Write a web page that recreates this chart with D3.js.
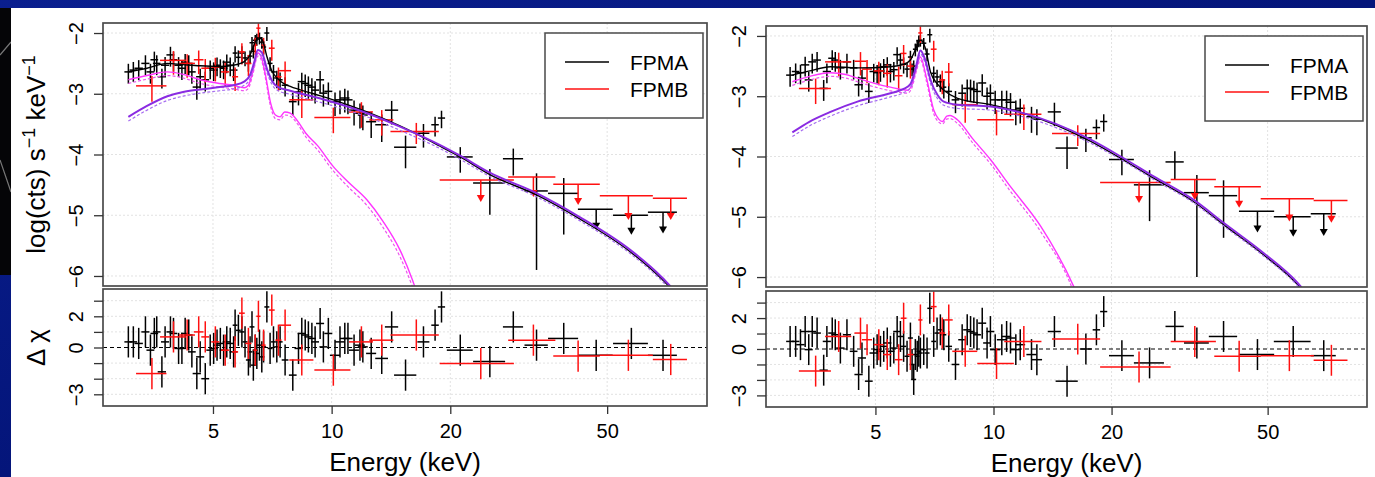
<!DOCTYPE html>
<html>
<head>
<meta charset="utf-8">
<script src="https://cdn.jsdelivr.net/npm/d3@7"></script>
<style>
  body { margin: 0; background: #061783; }
  svg { display: block; font-family: "Liberation Sans", Arial, Helvetica, sans-serif; }
</style>
</head>
<body>
<svg id="chart" width="1375" height="477"></svg>
<script>
"use strict";

// ---- axis ticks / labels ----
const energyTicks = [5, 10, 20, 50];
const specTicks = [-2, -3, -4, -5, -6];
const resTicks = [3, 2, 1, 0, -1, -2, -3];
const resLabels = [2, 0, -3];
const legendLabels = ["FPMA", "FPMB"];

// ---- left spectrum : [E keV, halfwidth, log rate, rel. error, delta chi] ----
const leftA = [
  [3.05,0.07,-2.64,0.36,0.36],[3.14,0.07,-2.61,0.36,0.36],[3.24,0.08,-2.58,0.36,0.26],[3.37,0.08,-2.50,0.36,1.0],
  [3.47,0.08,-2.64,0.36,-0.17],[3.55,0.08,-2.44,0.36,0.9],[3.60,0.08,-2.50,0.36,1.0],[3.71,0.09,-2.72,0.36,-1.56],
  [3.78,0.09,-2.53,0.36,0.36],[3.90,0.09,-2.36,0.36,1.0],[3.97,0.09,-2.44,0.36,0.9],[4.09,0.10,-2.53,0.36,-0.06],
  [4.17,0.10,-2.58,0.36,-0.06],[4.25,0.10,-2.48,0.36,0.9],[4.34,0.10,-2.50,0.36,0.8],[4.42,0.10,-2.64,0.36,-0.28],
  [4.55,0.11,-2.89,0.38,-1.67],[4.64,0.11,-2.72,0.36,-0.6],[4.78,0.11,-2.77,0.36,-2.0],[4.92,0.11,-2.58,0.34,-0.17],
  [5.02,0.12,-2.61,0.34,-0.06],[5.12,0.12,-2.53,0.34,0.15],[5.22,0.12,-2.56,0.34,0.26],[5.32,0.12,-2.58,0.34,-0.17],
  [5.42,0.13,-2.48,0.34,0.36],[5.53,0.13,-2.53,0.34,0.26],[5.64,0.13,-2.61,0.34,-0.28],[5.69,0.08,-2.33,0.3,1.43],
  [5.80,0.08,-2.40,0.3,1.1],[5.92,0.09,-2.33,0.3,1.0],[6.03,0.09,-2.41,0.27,0.36],[6.15,0.09,-2.50,0.27,-0.8],
  [6.21,0.09,-2.38,0.24,-0.28],[6.28,0.09,-2.16,0.24,1.32],[6.33,0.09,-2.30,0.24,-1.13],[6.40,0.09,-2.12,0.22,-0.17],
  [6.46,0.09,-2.10,0.22,-0.38],[6.56,0.10,-2.08,0.22,0.15],[6.65,0.10,-2.15,0.22,-0.6],[6.72,0.10,-2.23,0.24,0.04],
  [6.85,0.10,-2.00,0.26,2.6],[6.98,0.10,-2.50,0.26,-0.06],[7.12,0.10,-2.64,0.3,0.36],[7.26,0.11,-2.74,0.32,0.04],
  [7.40,0.11,-2.77,0.32,0.36],[7.62,0.15,-2.86,0.35,-0.8],[7.97,0.18,-3.13,0.4,-1.77],[8.24,0.19,-2.97,0.4,-0.06],
  [8.40,0.20,-2.80,0.4,0.9],[8.57,0.20,-2.83,0.4,0.8],[8.73,0.20,-2.86,0.4,0.68],[8.91,0.21,-2.89,0.4,0.58],
  [9.08,0.21,-2.94,0.4,0.36],[9.35,0.22,-2.77,0.4,1.54],[9.53,0.22,-2.99,0.4,0.04],[9.81,0.23,-2.96,0.4,0.9],
  [10.2,0.30,-3.13,0.42,-0.5],[10.5,0.30,-3.10,0.42,0.36],[10.8,0.30,-3.07,0.42,0.58],[11.0,0.30,-3.10,0.42,0.58],
  [11.4,0.33,-3.27,0.44,-0.17],[11.8,0.34,-3.32,0.44,0.15],[12.0,0.35,-3.35,0.44,0.04],[12.6,0.37,-3.46,0.46,-0.38],
  [13.4,0.50,-3.51,0.48,-0.7],[14.2,0.55,-3.27,0.42,1.32],[15.4,1.00,-3.88,0.55,-1.77],[17.1,0.60,-3.65,0.42,0.36],
  [18.3,0.40,-3.51,0.36,1.43],[19.0,0.40,-3.40,0.32,2.6],[21.2,1.60,-4.04,0.45,-0.17],[25.2,2.35,-4.47,0.7,-0.9],
  [28.9,1.70,-4.07,0.47,1.32],[33.1,2.25,-4.60,0.95,0.15],[38.8,3.40,-4.64,0.79,0.58]
];
const leftB = [
  [3.50,0.31,-2.87,0.45,-1.67],[3.97,0.30,-2.45,0.42,0.68],[4.30,0.20,-2.50,0.42,0.8],[4.60,0.13,-2.44,0.42,1.0],
  [4.78,0.11,-2.58,0.42,0.68],[5.07,0.12,-2.56,0.42,0.36],[5.37,0.13,-2.64,0.42,-0.17],[5.69,0.10,-2.72,0.42,-0.28],
  [5.92,0.10,-2.31,0.38,2.2],[6.15,0.11,-2.50,0.38,0.26],[6.40,0.07,-2.20,0.32,-0.17],[6.52,0.08,-1.92,0.32,2.0],
  [6.72,0.08,-2.20,0.32,0.15],[7.05,0.12,-2.25,0.38,2.4],[7.33,0.13,-2.72,0.42,0.47],[7.62,0.27,-2.62,0.42,1.43],
  [8.40,0.59,-3.10,0.5,-0.8],[10.1,1.06,-3.39,0.45,-1.45],[11.9,0.83,-3.30,0.45,0.36],[13.4,0.94,-3.43,0.45,0.47],
  [16.4,2.30,-3.62,0.38,0.8]
];
// upper limits : [E, halfwidth, limit, arrow tip, delta chi]
const leftAUL = [[46.9,4.75,-4.90,-5.24,-0.5],[57.6,5.85,-5.00,-5.32,0.26],[69.3,5.85,-4.95,-5.30,-0.5]];
const leftBUL = [[23.9,5.1,-4.42,-4.78,-1.03],[32.5,4.45,-4.37,-4.70,0.47],[42.2,5.7,-4.49,-4.83,-0.55],
  [56.6,8.7,-4.68,-5.08,-0.5],[72.5,7.2,-4.72,-5.08,-0.77]];

// model curves left : [E, log rate]
const leftTotal = [[3.05,-2.64],[3.4,-2.58],[3.83,-2.50],[4.2,-2.52],[4.64,-2.54],[5.2,-2.55],[5.63,-2.53],[6.0,-2.47],
  [6.2,-2.37],[6.35,-2.2],[6.5,-2.08],[6.65,-2.1],[6.86,-2.4],[7.05,-2.62],[7.27,-2.74],[7.6,-2.84],[7.85,-2.88],
  [9.0,-3.0],[10.1,-3.1],[12.3,-3.3],[14.9,-3.53],[18.8,-3.86],[21.2,-4.04],[25.2,-4.33],[33.2,-4.67],[42.6,-5.06],
  [57.2,-5.6],[68.8,-6.05],[75,-6.3]];
const leftPowA = [[3.05,-3.38],[3.4,-3.2],[3.83,-3.04],[4.2,-2.97],[4.64,-2.93],[5.2,-2.89],[5.63,-2.86],[6.0,-2.8],
  [6.2,-2.7],[6.35,-2.5],[6.5,-2.28],[6.65,-2.32],[6.86,-2.6],[7.05,-2.78],[7.27,-2.88],[7.85,-2.95],[9.0,-3.05],
  [10.1,-3.14],[12.3,-3.32],[14.9,-3.54],[18.8,-3.84],[21.2,-4.02],[25.2,-4.3],[33.2,-4.64],[42.6,-5.03],[57.2,-5.57],
  [68.8,-6.02],[75,-6.28]];
const leftPowB = [[3.05,-3.45],[3.4,-3.27],[3.83,-3.11],[4.2,-3.04],[4.64,-2.99],[5.2,-2.95],[5.63,-2.92],[6.0,-2.86],
  [6.2,-2.76],[6.35,-2.56],[6.5,-2.34],[6.65,-2.38],[6.86,-2.66],[7.05,-2.84],[7.27,-2.94],[7.85,-3.01],[9.0,-3.11],
  [10.1,-3.2],[12.3,-3.38],[14.9,-3.6],[18.8,-3.9],[21.2,-4.08],[25.2,-4.36],[33.2,-4.7],[42.6,-5.09],[57.2,-5.63],
  [68.8,-6.08],[75,-6.34]];
const leftThA = [[3.05,-2.77],[3.4,-2.7],[3.83,-2.64],[4.2,-2.68],[4.64,-2.77],[5.2,-2.83],[5.63,-2.86],[6.0,-2.9],
  [6.15,-2.86],[6.3,-2.65],[6.5,-2.33],[6.65,-2.42],[6.8,-2.7],[7.0,-3.15],[7.2,-3.35],[7.4,-3.38],[7.6,-3.3],
  [7.85,-3.32],[8.2,-3.45],[8.6,-3.65],[9.2,-3.85],[10.1,-4.2],[11.0,-4.45],[12.3,-4.75],[13.5,-5.1],[14.9,-5.57],
  [16.0,-6.05],[16.5,-6.3]];
const leftThB = [[3.05,-2.83],[3.4,-2.76],[3.83,-2.7],[4.2,-2.74],[4.64,-2.83],[5.2,-2.89],[5.63,-2.92],[6.0,-2.95],
  [6.15,-2.91],[6.3,-2.7],[6.5,-2.38],[6.65,-2.47],[6.8,-2.76],[7.0,-3.21],[7.2,-3.41],[7.4,-3.43],[7.6,-3.35],
  [7.85,-3.37],[8.2,-3.5],[8.6,-3.71],[9.2,-3.92],[10.1,-4.27],[11.0,-4.53],[12.3,-4.84],[13.5,-5.2],[14.9,-5.68],
  [16.0,-6.16],[16.5,-6.4]];

// ---- right spectrum ----
const rightA = [
  [3.03,0.07,-2.65,0.36,0.49],[3.13,0.07,-2.59,0.36,0.49],[3.22,0.08,-2.61,0.36,0.28],[3.31,0.08,-2.48,0.36,1.13],
  [3.38,0.08,-2.73,0.36,-0.04],[3.45,0.08,-2.43,0.36,1.13],[3.55,0.08,-2.40,0.36,1.03],[3.69,0.09,-2.87,0.38,-1.37],
  [3.76,0.09,-2.59,0.36,0.49],[3.88,0.09,-2.37,0.36,1.03],[3.95,0.09,-2.40,0.36,0.92],[4.07,0.10,-2.53,0.36,0.06],
  [4.23,0.10,-2.43,0.36,0.92],[4.40,0.10,-2.53,0.36,-0.15],[4.53,0.11,-2.81,0.36,-1.65],[4.62,0.11,-2.70,0.36,-0.58],
  [4.81,0.11,-2.92,0.36,-2.08],[4.95,0.12,-2.59,0.34,-0.26],[5.05,0.12,-2.61,0.34,-0.04],[5.15,0.12,-2.58,0.34,-0.15],
  [5.25,0.12,-2.51,0.34,0.17],[5.36,0.13,-2.48,0.34,0.39],[5.46,0.13,-2.59,0.34,-0.15],[5.57,0.13,-2.56,0.34,0.06],
  [5.68,0.13,-2.31,0.32,1.13],[5.79,0.09,-2.40,0.3,0.81],[5.90,0.09,-2.47,0.3,0.17],[6.02,0.09,-2.55,0.27,-0.47],
  [6.14,0.09,-2.35,0.27,0.71],[6.20,0.09,-2.55,0.24,-1.0],[6.26,0.09,-2.50,0.24,-1.97],[6.32,0.09,-2.22,0.24,-0.36],
  [6.39,0.09,-2.15,0.22,-0.47],[6.45,0.09,-2.08,0.22,-0.15],[6.51,0.09,-2.07,0.22,-0.26],[6.64,0.10,-2.12,0.22,-0.04],
  [6.77,0.10,-2.30,0.24,-0.26],[6.88,0.10,-1.98,0.26,2.63],[7.04,0.10,-2.62,0.3,0.49],[7.18,0.11,-2.68,0.32,1.03],
  [7.32,0.11,-2.76,0.32,1.24],[7.47,0.11,-2.85,0.35,0.92],[7.69,0.15,-2.92,0.36,0.17],[8.00,0.18,-3.06,0.4,-1.0],
  [8.32,0.19,-2.95,0.4,0.6],[8.57,0.20,-2.87,0.4,1.24],[8.74,0.20,-2.87,0.4,1.13],[8.91,0.21,-2.89,0.4,1.03],
  [9.08,0.21,-2.92,0.4,0.92],[9.36,0.22,-2.78,0.4,1.67],[9.63,0.22,-3.00,0.4,0.39],[9.82,0.23,-2.95,0.4,1.13],
  [10.1,0.30,-3.06,0.42,-0.04],[10.5,0.30,-3.06,0.42,0.6],[10.8,0.30,-3.06,0.42,0.81],[11.05,0.32,-3.10,0.42,0.71],
  [11.4,0.33,-3.23,0.44,-0.04],[11.7,0.34,-3.20,0.44,0.28],[12.5,0.37,-3.34,0.46,-0.36],[12.9,0.40,-3.38,0.46,-0.69],
  [14.3,0.55,-3.26,0.42,1.13],[15.4,1.00,-3.86,0.55,-2.08],[17.2,0.60,-3.69,0.42,0.0],[18.3,0.40,-3.52,0.36,1.24],
  [19.1,0.40,-3.42,0.32,2.42],[21.25,1.55,-4.05,0.45,-0.43],[25.0,2.2,-4.47,0.75,-0.9],[29.0,1.55,-4.09,0.5,1.46],
  [33.0,2.4,-4.60,0.96,0.39],[38.6,3.2,-4.65,0.8,0.81]
];
const rightB = [
  [3.52,0.33,-2.87,0.45,-1.43],[4.03,0.31,-2.43,0.42,0.81],[4.58,0.16,-2.42,0.42,1.03],[4.76,0.14,-2.55,0.42,0.6],
  [5.10,0.15,-2.58,0.42,0.28],[5.36,0.13,-2.62,0.42,-0.36],[5.73,0.13,-2.66,0.42,-0.69],[5.90,0.10,-2.29,0.38,1.99],
  [6.14,0.11,-2.50,0.38,-0.36],[6.51,0.08,-1.95,0.32,1.88],[7.04,0.12,-2.22,0.38,2.74],[7.40,0.13,-2.73,0.42,1.03],
  [7.69,0.18,-2.60,0.42,1.88],[8.47,0.62,-3.14,0.5,-0.15],[10.18,1.09,-3.39,0.45,-0.94],[11.95,1.3,-3.30,0.45,0.49],
  [16.4,2.3,-3.62,0.38,0.64]
];
const rightAUL = [[47.1,4.85,-4.91,-5.26,-0.36],[58.1,6.25,-5.00,-5.33,0.49],[69.5,5.1,-4.95,-5.32,-0.43]];
const rightBUL = [[23.5,4.8,-4.43,-4.77,-1.16],[32.6,4.3,-4.38,-4.72,0.49],[42.3,5.75,-4.50,-4.85,-0.47],
  [56.8,8.8,-4.70,-5.08,-0.43],[72.7,7.2,-4.73,-5.10,-0.73]];

const rightTotal = [[3.07,-2.65],[3.4,-2.58],[3.84,-2.51],[4.5,-2.53],[5.46,-2.51],[5.9,-2.47],[6.14,-2.4],[6.3,-2.25],
  [6.51,-2.07],[6.7,-2.2],[6.91,-2.6],[7.2,-2.8],[7.47,-2.9],[8.07,-3.03],[9.82,-3.14],[11.9,-3.28],[17.7,-3.75],
  [21.1,-4.03],[25.6,-4.36],[32.4,-4.75],[38.6,-5.13],[48.8,-5.63],[59.7,-6.13],[63,-6.31]];
const rightPowA = [[3.07,-3.6],[3.4,-3.42],[3.84,-3.26],[4.5,-3.09],[5.46,-2.95],[5.9,-2.88],[6.14,-2.8],[6.35,-2.5],
  [6.51,-2.24],[6.7,-2.4],[6.91,-2.73],[7.2,-2.98],[7.47,-3.09],[8.07,-3.14],[9.82,-3.17],[11.9,-3.28],[17.7,-3.72],
  [21.1,-4.0],[25.6,-4.33],[32.4,-4.72],[38.6,-5.1],[48.8,-5.6],[59.7,-6.1],[63,-6.28]];
const rightPowB = [[3.07,-3.67],[3.4,-3.49],[3.84,-3.33],[4.5,-3.16],[5.46,-3.01],[5.9,-2.94],[6.14,-2.86],[6.35,-2.56],
  [6.51,-2.3],[6.7,-2.46],[6.91,-2.79],[7.2,-3.04],[7.47,-3.15],[8.07,-3.2],[9.82,-3.23],[11.9,-3.34],[17.7,-3.78],
  [21.1,-4.05],[25.6,-4.38],[32.4,-4.77],[38.6,-5.15],[48.8,-5.65],[59.7,-6.15],[63,-6.33]];
const rightThA = [[3.07,-2.76],[3.4,-2.67],[3.84,-2.61],[4.2,-2.64],[4.5,-2.7],[5.0,-2.79],[5.46,-2.85],[6.03,-2.9],
  [6.2,-2.8],[6.35,-2.55],[6.51,-2.35],[6.75,-2.7],[7.04,-3.23],[7.25,-3.38],[7.41,-3.42],[7.6,-3.33],[7.75,-3.32],
  [8.09,-3.39],[8.89,-3.72],[9.82,-4.05],[11.05,-4.5],[13.2,-5.16],[16.0,-6.15],[16.5,-6.35]];
const rightThB = [[3.07,-2.82],[3.4,-2.73],[3.84,-2.67],[4.2,-2.7],[4.5,-2.76],[5.0,-2.85],[5.46,-2.91],[6.03,-2.95],
  [6.2,-2.85],[6.35,-2.6],[6.51,-2.4],[6.75,-2.76],[7.04,-3.29],[7.25,-3.43],[7.41,-3.46],[7.6,-3.38],[7.75,-3.37],
  [8.09,-3.45],[8.89,-3.79],[9.82,-4.12],[11.05,-4.58],[13.2,-5.25],[16.0,-6.25],[16.3,-6.4]];

// ---------------------------------------------------------------
const svg = d3.select("#chart");
const fmt = d => (d < 0 ? "\u2212" + Math.abs(d) : String(d));

// slide background
const defs = svg.append("defs");
const grad = defs.append("linearGradient").attr("id", "bg").attr("x1", 0).attr("x2", 1).attr("y1", 0).attr("y2", 1);
grad.append("stop").attr("offset", "0%").attr("stop-color", "#0a1f8f");
grad.append("stop").attr("offset", "50%").attr("stop-color", "#04157a");
grad.append("stop").attr("offset", "100%").attr("stop-color", "#0b2596");
svg.append("rect").attr("width", 1375).attr("height", 477).attr("fill", "url(#bg)");
svg.append("rect").attr("x", 0).attr("y", 8).attr("width", 11).attr("height", 267).attr("fill", "#050507");
svg.append("path").attr("d", "M0,55 L11,42 M0,160 L11,192").attr("stroke", "#777").attr("stroke-width", 1.2).attr("fill", "none");
svg.append("rect").attr("x", 11).attr("y", 8).attr("width", 1364).attr("height", 469).attr("fill", "#fff");

function drawPanel(id, box, data, showYTitle) {
  const g = svg.append("g").attr("id", id);

  const x = d3.scaleLog().domain([2.63, 89.6]).range([box.left, box.right]);
  const yS = d3.scaleLinear().domain([-1.835, -6.165]).range([box.sTop, box.sBot]);
  const yR = d3.scaleLinear().domain([3.75, -3.75]).range([box.rTop, box.rBot]);

  // clip regions
  defs.append("clipPath").attr("id", id + "-cs").append("rect")
    .attr("x", box.left).attr("y", box.sTop).attr("width", box.right - box.left).attr("height", box.sBot - box.sTop);
  defs.append("clipPath").attr("id", id + "-cr").append("rect")
    .attr("x", box.left).attr("y", box.rTop).attr("width", box.right - box.left).attr("height", box.rBot - box.rTop);

  // faint dotted grid, R grid() style
  const grid = g.append("g").attr("stroke", "#e2e2e2").attr("stroke-width", 1).attr("stroke-dasharray", "2,2");
  specTicks.forEach(v => grid.append("line").attr("x1", box.left).attr("x2", box.right).attr("y1", yS(v)).attr("y2", yS(v)));
  resTicks.filter(v => v !== 0).forEach(v => grid.append("line").attr("x1", box.left).attr("x2", box.right).attr("y1", yR(v)).attr("y2", yR(v)));
  energyTicks.forEach(e => {
    grid.append("line").attr("x1", x(e)).attr("x2", x(e)).attr("y1", box.sTop).attr("y2", box.sBot);
    grid.append("line").attr("x1", x(e)).attr("x2", x(e)).attr("y1", box.rTop).attr("y2", box.rBot);
  });

  // zero line of the residuals
  g.append("line").attr("x1", box.left).attr("x2", box.right).attr("y1", yR(0)).attr("y2", yR(0))
    .attr("stroke", "#000").attr("stroke-width", 1).attr("stroke-dasharray", "4,3");

  const spec = g.append("g").attr("clip-path", `url(#${id}-cs)`);
  const res = g.append("g").attr("clip-path", `url(#${id}-cr)`);

  // data crosses (rate with linear error -> log bar)
  function crosses(layer, pts, color) {
    const s = layer.append("g").attr("stroke", color).attr("stroke-width", 1.5);
    pts.forEach(p => {
      const [e, de, v, rel] = p;
      const hi = v + Math.log10(1 + rel);
      const lo = rel < 1 ? v + Math.log10(1 - rel) : -9;
      s.append("line").attr("x1", x(e - de)).attr("x2", x(e + de)).attr("y1", yS(v)).attr("y2", yS(v));
      s.append("line").attr("x1", x(e)).attr("x2", x(e)).attr("y1", yS(hi)).attr("y2", yS(lo));
    });
  }
  function limits(layer, pts, color) {
    const s = layer.append("g");
    pts.forEach(p => {
      const [e, de, v, tip] = p;
      s.append("line").attr("x1", x(e - de)).attr("x2", x(e + de)).attr("y1", yS(v)).attr("y2", yS(v))
        .attr("stroke", color).attr("stroke-width", 1.5);
      s.append("line").attr("x1", x(e)).attr("x2", x(e)).attr("y1", yS(v)).attr("y2", yS(tip) - 5)
        .attr("stroke", color).attr("stroke-width", 1.5);
      const cx = x(e), ty = yS(tip);
      s.append("path").attr("d", `M${cx - 4},${ty - 7}L${cx + 4},${ty - 7}L${cx},${ty}Z`).attr("fill", color);
    });
  }
  function resid(pts, color) {
    const s = res.append("g").attr("stroke", color).attr("stroke-width", 1.5);
    pts.forEach(p => {
      const e = p[0], de = p[1], r = p[p.length - 1];
      s.append("line").attr("x1", x(e - de)).attr("x2", x(e + de)).attr("y1", yR(r)).attr("y2", yR(r));
      s.append("line").attr("x1", x(e)).attr("x2", x(e)).attr("y1", yR(r + 1)).attr("y2", yR(r - 1));
    });
  }

  crosses(spec, data.A, "#000");
  limits(spec, data.AUL, "#000");
  crosses(spec, data.B, "#ff1010");
  limits(spec, data.BUL, "#ff1010");

  resid(data.A, "#000");
  resid(data.AUL, "#000");
  resid(data.B, "#ff1010");
  resid(data.BUL, "#ff1010");

  // models
  const line = d3.line().x(d => x(d[0])).y(d => yS(d[1])).curve(d3.curveMonotoneX);
  const models = [
    [data.thB, "#ee55ee", 1.2, "3,2"],
    [data.thA, "#ff33ff", 1.4, null],
    [data.total, "#000", 1.4, null],
    [data.powB, "#a66cf0", 1.2, "3,2"],
    [data.powA, "#8a2be2", 2.0, null]
  ];
  models.forEach(([pts, col, w, dash]) => {
    spec.append("path").attr("d", line(pts)).attr("fill", "none")
      .attr("stroke", col).attr("stroke-width", w).attr("stroke-dasharray", dash);
  });

  // frames
  [[box.sTop, box.sBot], [box.rTop, box.rBot]].forEach(([t, b]) => {
    g.append("rect").attr("x", box.left).attr("y", t).attr("width", box.right - box.left).attr("height", b - t)
      .attr("fill", "none").attr("stroke", "#4a4a4a").attr("stroke-width", 1.7);
  });

  // y axes (labels parallel to the axis, R style)
  const ySpecAxis = d3.axisLeft(yS).tickValues(specTicks).tickSize(9).tickFormat(fmt);
  const yResAxis = d3.axisLeft(yR).tickValues(resTicks).tickSize(9)
    .tickFormat(d => (resLabels.includes(d) ? fmt(d) : ""));
  [ySpecAxis, yResAxis].forEach(ax => {
    const a = g.append("g").attr("transform", `translate(${box.left},0)`).call(ax);
    a.select(".domain").remove();
    a.selectAll(".tick line").attr("stroke", "#333").attr("stroke-width", 1.3);
    a.selectAll(".tick text").attr("x", null).attr("dy", null)
      .attr("transform", "translate(-20,0) rotate(-90)")
      .attr("text-anchor", "middle").attr("font-size", 20).attr("fill", "#000")
      .attr("font-family", "Liberation Sans, Arial, sans-serif");
  });

  // x axis under the residuals
  const xAxis = d3.axisBottom(x).tickValues(energyTicks).tickSize(8).tickFormat(d3.format("d"));
  const xa = g.append("g").attr("transform", `translate(0,${box.rBot})`).call(xAxis);
  xa.select(".domain").remove();
  xa.selectAll(".tick line").attr("stroke", "#333").attr("stroke-width", 1.3);
  xa.selectAll(".tick text").attr("y", 32).attr("dy", null).attr("font-size", 20).attr("fill", "#000")
    .attr("font-family", "Liberation Sans, Arial, sans-serif");

  g.append("text").attr("x", (box.left + box.right) / 2).attr("y", box.rBot + 65)
    .attr("text-anchor", "middle").attr("font-size", 26).text("Energy (keV)");

  if (showYTitle) {
    const t = g.append("text").attr("transform", `translate(45,${(box.sTop + box.sBot) / 2}) rotate(-90)`)
      .attr("text-anchor", "middle").attr("font-size", 26);
    t.append("tspan").text("log(cts) s");
    t.append("tspan").attr("font-size", 18).attr("dy", -10).text("\u22121");
    t.append("tspan").attr("dy", 10).text(" keV");
    t.append("tspan").attr("font-size", 18).attr("dy", -10).text("\u22121");
    g.append("text").attr("transform", `translate(45,${yR(0)}) rotate(-90)`)
      .attr("text-anchor", "middle").attr("font-size", 26).text("\u0394 \u03c7");
  }

  // legend
  const lx = box.right - 162, ly = box.sTop + 10;
  g.append("rect").attr("x", lx).attr("y", ly).attr("width", 158).attr("height", 85)
    .attr("fill", "#fff").attr("stroke", "#4a4a4a").attr("stroke-width", 1.5);
  legendLabels.forEach((lab, i) => {
    const yy = ly + 29 + i * 27;
    g.append("line").attr("x1", lx + 20).attr("x2", lx + 64).attr("y1", yy).attr("y2", yy)
      .attr("stroke", i === 0 ? "#000" : "#ff1010").attr("stroke-width", 1.5);
    g.append("text").attr("x", lx + 85).attr("y", yy + 8).attr("font-size", 21).text(lab);
  });
}

drawPanel("left", { left: 103, right: 707, sTop: 23, sBot: 286, rTop: 289, rBot: 406 },
  { A: leftA, B: leftB, AUL: leftAUL, BUL: leftBUL, total: leftTotal,
    powA: leftPowA, powB: leftPowB, thA: leftThA, thB: leftThB }, true);

drawPanel("right", { left: 766, right: 1367, sTop: 26, sBot: 287, rTop: 291, rBot: 407 },
  { A: rightA, B: rightB, AUL: rightAUL, BUL: rightBUL, total: rightTotal,
    powA: rightPowA, powB: rightPowB, thA: rightThA, thB: rightThB }, false);
</script>
</body>
</html>
